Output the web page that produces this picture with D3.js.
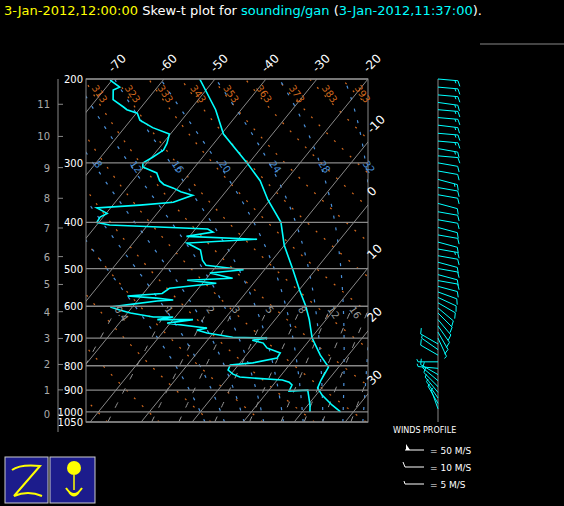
<!DOCTYPE html>
<html lang="en">
<head>
<meta charset="UTF-8">
<title>Skew-t</title>
<script src="https://cdn.jsdelivr.net/npm/d3@7/dist/d3.min.js"></script>
<style>
  body { margin: 0; background: #000; }
  text { font-family: "DejaVu Sans", sans-serif; }
</style>
</head>
<body>
<div class="skewt"></div>
<script>
// sounding: temperature (hPa, degC)
const tempP = [1000, 967, 922, 891, 857, 805, 760, 700, 640, 600, 556, 500, 447, 400, 359, 327, 300, 261, 232, 200]
const tempT = [27.5, 24.7, 21.2, 19.2, 18.6, 18.0, 14.5, 10.2, 6.7, 3.9, 0.2, -4.7, -10, -14.3, -20.4, -25, -30.4, -39.6, -45, -53]
// dewpoint
const dewP = [1000, 967, 900, 904, 878, 866, 857, 849, 845, 833, 817, 797, 789, 771, 752, 734, 717, 707, 700, 697,
  683, 673, 667, 664, 651, 640, 640, 632, 632, 620, 611, 602, 596, 585, 582, 577, 571, 564, 550, 537,
  529, 524, 511, 503, 492, 480, 457, 442, 434, 428, 419, 413, 405, 400, 390, 383, 373, 368, 363, 351,
  345, 339, 333, 327, 315, 306, 300, 292, 282, 273, 261, 253, 244, 236, 232, 229, 221, 211, 208, 201]
const dewT = [21.5, 20.4, 17.6, 14.1, 13.7, 12.7, 11, 4.9, 2.2, 0.4, -1.2, -1.6, 2.5, 6.5, 6.3, 2.9, 1.4, -1.2, 1.4, -5.5,
  -11.2, -13.7, -12, -13.5, -20.6, -16.1, -23.1, -20.4, -24.3, -29.4, -32, -34.3, -31.4, -26.1, -23.1, -26.7, -32.7, -26.3, -25.7, -17.3,
  -23.5, -14.9, -20.2, -14.1, -22.2, -23.7, -25.7, -29.4, -16.3, -30.6, -26.1, -27.6, -47.5, -50.4, -50.6, -49.8, -52.7, -44.7, -38.6, -35.9,
  -38.8, -40.8, -43.3, -44.7, -46.5, -50.2, -50.8, -49.8, -48.8, -49.2, -50.2, -54.5, -58.2, -59.8, -62.4, -63.5, -66.7, -68.2, -67.4, -70.4]
// winds (hPa, deg, m/s)
const windP = [200, 208, 216, 224, 232, 241, 250, 260, 270, 280, 290, 300, 312, 325, 338, 350, 365, 380, 395, 410,
  425, 440, 455, 470, 485, 500, 515, 530, 545, 560, 575, 590, 605, 620, 640, 660, 680, 700, 720, 740,
  760, 785, 810, 835, 860, 885, 910, 935, 960, 985]
const windDir = [95, 95, 95, 98, 95, 95, 97, 95, 95, 100, 95, 100, 100, 105, 100, 100, 105, 100, 100, 105,
  100, 105, 100, 100, 105, 100, 105, 100, 105, 110, 115, 120, 130, 135, 140, 145, 150, 155, 300, 305,
  300, 270, 275, 300, 310, 315, 320, 325, 330, 340]
const windSpd = [15, 15, 15, 15, 15, 15, 15, 15, 15, 15, 12, 12, 12, 15, 12, 12, 12, 12, 12, 12,
  12, 12, 15, 12, 12, 12, 12, 12, 10, 10, 10, 12, 12, 10, 10, 10, 10, 8, 10, 8,
  10, 8, 8, 10, 10, 10, 8, 8, 5, 5]
const pressTicks = [200, 300, 400, 500, 600, 700, 800, 900, 1000, 1050]
const heightKm = [0, 1, 2, 3, 4, 5, 6, 7, 8, 9, 10, 11]
const heightP = [1012, 899, 795, 701, 616, 540, 472, 411, 356, 307, 264, 226]
const isoLabels = [-70, -60, -50, -40, -30, -20, -10, 0, 10, 20, 30]
const thetaLines = [253, 263, 273, 283, 293, 303, 313, 323, 333, 343, 353, 363, 373, 383, 393, 403, 413, 423, 433]
const thetaWLines = [0, 4, 8, 12, 16, 20, 24, 28, 32]
const mixLines = [0.4, 1, 2, 3, 5, 8, 12, 16, 20, 28]

const W = 564, H = 506
const box = { left: 86, right: 368, top: 79, bottom: 422 }
const svg = d3.select('.skewt').append('svg').attr('width', W).attr('height', H)
svg.append('rect').attr('width', W).attr('height', H).attr('fill', '#000')

const yScale = d3.scaleLog().domain([1050, 200]).range([box.bottom, box.top])
const tScale = d3.scaleLinear().domain([-20, -70]).range([box.right, box.right - 255])
const skew = 0.81
const px = (t, p) => tScale(t) - skew * (yScale(p) - box.top)
const line = d3.line().x(d => px(d[1], d[0])).y(d => yScale(d[0]))

// title
const title = svg.append('text').attr('x', 4).attr('y', 15).attr('font-size', 13)
title.append('tspan').attr('fill', '#ffff00').text('3-Jan-2012,12:00:00')
title.append('tspan').attr('fill', '#fff').text('  Skew-t plot for ')
title.append('tspan').attr('fill', '#00ffff').text('sounding/gan')
title.append('tspan').attr('fill', '#fff').text(' (')
title.append('tspan').attr('fill', '#00ffff').text('3-Jan-2012,11:37:00')
title.append('tspan').attr('fill', '#fff').text(').')
svg.append('line').attr('x1', 480).attr('x2', 564).attr('y1', 44).attr('y2', 44).attr('stroke', '#888')

svg.append('clipPath').attr('id', 'clip').append('rect')
  .attr('x', box.left).attr('y', box.top).attr('width', box.right - box.left).attr('height', box.bottom - box.top)
const g = svg.append('g').attr('clip-path', 'url(#clip)')

const levels = d3.range(0, 61).map(i => 1050 * Math.pow(200 / 1050, i / 60))

// dry adiabats
thetaLines.forEach(th => {
  const pts = levels.map(p => [p, th * Math.pow(p / 1000, 0.286) - 273.15])
  g.append('path').attr('d', line(pts)).attr('fill', 'none')
    .attr('stroke', '#d2691e').attr('stroke-width', 1.2).attr('stroke-dasharray', '2,9')
})

// moist adiabats
function moist(tw) {
  const out = []
  let T = tw + 273.15, p = 1000
  const step = (p, T, dp) => {
    const es = 6.112 * Math.exp(17.67 * (T - 273.15) / (T - 29.65))
    const rs = 0.622 * es / (p - es)
    const dTdp = (287 * T + 2.5e6 * rs) / (p * (1004 + 2.5e6 * 2.5e6 * rs * 0.622 / (287 * T * T)))
    return T + dTdp * dp
  }
  out.push([1000, T - 273.15])
  let t2 = T
  for (let q = 1000; q < 1050; q += 5) { t2 = step(q, t2, 5) }
  out.unshift([1050, t2 - 273.15])
  for (p = 1000; p > 200; p -= 5) { T = step(p, T, -5); out.push([p - 5, T - 273.15]) }
  return out
}
thetaWLines.forEach(tw => {
  g.append('path').attr('d', line(moist(tw))).attr('fill', 'none')
    .attr('stroke', '#4a90d9').attr('stroke-width', 1.2).attr('stroke-dasharray', '3,9')
})

// mixing ratio lines
const mixP = d3.range(1050, 595, -10)
mixLines.forEach(w => {
  const pts = mixP.map(p => {
    const e = w * p / (622 + w)
    const l = Math.log(e / 6.112)
    return [p, 243.5 * l / (17.67 - l)]
  })
  g.append('path').attr('d', line(pts)).attr('fill', 'none')
    .attr('stroke', '#999').attr('stroke-width', 1).attr('stroke-dasharray', '6,10')
})

// isotherms
d3.range(-120, 50, 10).forEach(t => {
  g.append('line').attr('x1', px(t, 1050)).attr('y1', box.bottom).attr('x2', px(t, 200)).attr('y2', box.top)
    .attr('stroke', '#888').attr('stroke-width', 1)
})

// isobars
pressTicks.forEach(p => {
  svg.append('line').attr('x1', box.left).attr('x2', box.right).attr('y1', yScale(p)).attr('y2', yScale(p))
    .attr('stroke', '#888').attr('stroke-width', 1.3)
  svg.append('text').attr('x', box.left - 3).attr('y', yScale(p) + 4).attr('text-anchor', 'end')
    .attr('fill', '#fff').attr('font-size', 10).text(p)
})
svg.append('rect').attr('x', box.left).attr('y', box.top).attr('width', box.right - box.left)
  .attr('height', box.bottom - box.top).attr('fill', 'none').attr('stroke', '#888')

// height axis
svg.append('line').attr('x1', 58).attr('x2', 58).attr('y1', box.top).attr('y2', 432).attr('stroke', '#888')
heightKm.forEach((h, i) => {
  const y = yScale(heightP[i])
  svg.append('line').attr('x1', 58).attr('x2', 63).attr('y1', y).attr('y2', y).attr('stroke', '#888')
  svg.append('text').attr('x', 50).attr('y', y + 4).attr('text-anchor', 'end')
    .attr('fill', '#aaa').attr('font-size', 10).text(h)
})

// isotherm labels
isoLabels.forEach(t => {
  let x, y
  if (t <= -20) { x = tScale(t); y = box.top - 6 }
  else { x = box.right + 4; y = box.top + (tScale(t) - box.right) / skew - 8 }
  svg.append('text').attr('transform', `translate(${x},${y}) rotate(-45)`)
    .attr('fill', '#fff').attr('font-size', 12).text(t)
})

// dry adiabat labels
thetaLines.forEach(th => {
  let p = 215
  let t = th * Math.pow(p / 1000, 0.286) - 273.15
  if (px(t, p) < box.left + 6) {
    p = levels.find(q => px(th * Math.pow(q / 1000, 0.286) - 273.15, q) > box.left + 4)
    if (!p || p > 1040) return
    t = th * Math.pow(p / 1000, 0.286) - 273.15
  }
  if (px(t, p) > box.right - 4) return
  svg.append('text').attr('transform', `translate(${px(t, p) - 2},${yScale(p) - 6}) rotate(55)`)
    .attr('fill', '#d2691e').attr('font-size', 10).text(th)
})
// moist adiabat labels at 300 hPa
thetaWLines.forEach(tw => {
  const pt = moist(tw).find(d => d[0] <= 310)
  const x = px(pt[1], pt[0])
  if (x < box.left || x > box.right) return
  svg.append('text').attr('transform', `translate(${x - 4},${yScale(pt[0]) - 6}) rotate(55)`)
    .attr('fill', '#4a90d9').attr('font-size', 10).text(tw)
})
// mixing ratio labels at 600 hPa
mixLines.forEach(w => {
  const e = w * 600 / (622 + w), l = Math.log(e / 6.112)
  const x = px(243.5 * l / (17.67 - l), 600)
  if (x < box.left + 5 || x > box.right - 5) return
  svg.append('text').attr('transform', `translate(${x - 4},${yScale(600) + 3}) rotate(55)`)
    .attr('fill', '#999').attr('font-size', 10).text(w)
})

// profiles
const prof = d3.line().x(d => px(d[1], d[0])).y(d => yScale(d[0]))
g.append('path').attr('d', prof(tempP.map((p, i) => [p, tempT[i]]))).attr('fill', 'none')
  .attr('stroke', '#00ffff').attr('stroke-width', 1.6)
g.append('path').attr('d', prof(dewP.map((p, i) => [p, dewT[i]]))).attr('fill', 'none')
  .attr('stroke', '#00ffff').attr('stroke-width', 1.6)

// wind profile
const poleX = 438
svg.append('line').attr('x1', poleX).attr('x2', poleX).attr('y1', 79).attr('y2', 422).attr('stroke', '#888')
function barb(gp, x0, y0, dir, spd, L, color) {
  const r = dir * Math.PI / 180
  const ux = Math.sin(r), uy = -Math.cos(r)
  const fx = Math.cos(r) * 0.9 + ux * 0.4, fy = Math.sin(r) * 0.9 + uy * 0.4
  const x1 = x0 + ux * L, y1 = y0 + uy * L
  gp.append('line').attr('x1', x0).attr('y1', y0).attr('x2', x1).attr('y2', y1).attr('stroke', color)
  let s = spd, pos = L
  while (s >= 50) {
    const bx = x0 + ux * pos, by = y0 + uy * pos
    const cx = x0 + ux * (pos - 5), cy = y0 + uy * (pos - 5)
    gp.append('path').attr('d', `M${bx},${by}L${bx + Math.cos(r) * 8},${by + Math.sin(r) * 8}L${cx},${cy}Z`).attr('fill', color)
    s -= 50; pos -= 6
  }
  while (s >= 10) {
    const bx = x0 + ux * pos, by = y0 + uy * pos
    gp.append('line').attr('x1', bx).attr('y1', by).attr('x2', bx + fx * 6).attr('y2', by + fy * 6).attr('stroke', color)
    s -= 10; pos -= 3
  }
  if (s >= 5) {
    const bx = x0 + ux * pos, by = y0 + uy * pos
    gp.append('line').attr('x1', bx).attr('y1', by).attr('x2', bx + fx * 3).attr('y2', by + fy * 3).attr('stroke', color)
  }
}
const gw = svg.append('g').attr('stroke-width', 1)
windP.forEach((p, i) => barb(gw, poleX, yScale(p), windDir[i], windSpd[i], 20, '#00ffff'))

// legend
svg.append('text').attr('x', 393).attr('y', 433).attr('fill', '#fff').attr('font-size', 8).text('WINDS PROFILE')
const gl = svg.append('g').attr('stroke-width', 1)
const legendSpd = [50, 10, 5]
legendSpd.forEach((s, i) => {
  const y = 450 + i * 17
  gl.append('line').attr('x1', 405).attr('x2', 424).attr('y1', y).attr('y2', y).attr('stroke', '#fff')
  if (s === 50) gl.append('path').attr('d', `M406,${y}L406,${y - 6}L410,${y}Z`).attr('fill', '#fff')
  else gl.append('line').attr('x1', 405).attr('x2', s === 10 ? 403 : 404).attr('y1', y).attr('y2', y - (s === 10 ? 5 : 3)).attr('stroke', '#fff')
  svg.append('text').attr('x', 430).attr('y', y + 4).attr('fill', '#fff').attr('font-size', 9)
    .text(`=  ${s} M/S`)
})

// logos
const lg = svg.append('g')
lg.append('rect').attr('x', 5).attr('y', 457).attr('width', 43).attr('height', 46).attr('fill', '#1c1c8c').attr('stroke', '#ccc')
lg.append('rect').attr('x', 50).attr('y', 457).attr('width', 45).attr('height', 46).attr('fill', '#1c1c8c').attr('stroke', '#ccc')
lg.append('path').attr('d', 'M12,470 Q20,464 40,466 L14,496 Q28,490 42,496').attr('fill', 'none')
  .attr('stroke', '#ffff00').attr('stroke-width', 2)
lg.append('circle').attr('cx', 74).attr('cy', 468).attr('r', 7).attr('fill', '#ffff00')
lg.append('line').attr('x1', 74).attr('x2', 74).attr('y1', 475).attr('y2', 490).attr('stroke', '#ffff00').attr('stroke-width', 1.5)
lg.append('path').attr('d', 'M66,488 Q74,500 82,488 M69,492 Q74,499 79,492').attr('fill', 'none').attr('stroke', '#ffff00').attr('stroke-width', 2)
</script>
</body>
</html>
